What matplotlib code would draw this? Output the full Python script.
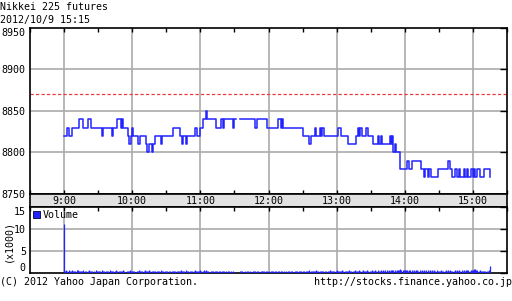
import numpy as np
import matplotlib
matplotlib.use("Agg")
from matplotlib import pyplot as plt
from matplotlib.patches import Patch
from matplotlib.transforms import blended_transform_factory

# price steps: minutes after 9:00 -> price (nan = no trades)
price_min = [0, 3, 4, 7, 13, 17, 21, 24, 33, 34, 42, 43, 47, 50, 51, 52, 56, 57, 59, 60,
             61, 65, 67, 72, 73, 75, 77, 78, 80, 85, 86, 96, 102, 104, 105, 107, 108, 115, 117, 120,
             122, 125, 126, 134, 138, 140, 141, 149, 150, 151, 155, 168, 170, 179, 188, 191, 192, 193, 210, 216,
             217, 221, 222, 225, 226, 227, 229, 241, 244, 250, 257, 259, 260, 261, 262, 266, 268, 272, 276, 277,
             279, 280, 287, 288, 289, 290, 291, 292, 296, 302, 304, 306, 314, 317, 318, 320, 321, 323, 329, 338,
             340, 342, 344, 346, 348, 349, 352, 353, 355, 356, 358, 360, 361, 362, 364, 366, 370, 375]
price_val = [8820, 8830, 8820, 8830, 8840, 8830, 8840, 8830, 8820, 8830, 8820, 8830, 8840, 8830, 8840, 8830, 8820, 8810, 8820, 8830,
             8820, 8810, 8820, 8810, 8800, 8810, 8800, 8810, 8820, 8810, 8820, 8830, 8820, 8810, 8820, 8810, 8820, 8830, 8820, 8830,
             8840, 8850, 8840, 8830, 8840, 8830, 8840, 8830, 8840, np.nan, 8840, 8830, 8840, 8830, 8840, 8830, 8840, 8830, 8820, 8810,
             8820, 8830, 8820, 8830, 8820, 8830, 8820, 8830, 8820, 8810, 8820, 8830, 8820, 8830, 8820, 8830, 8820, 8810, 8820, 8810,
             8820, 8810, 8820, 8810, 8820, 8800, 8810, 8800, 8780, 8790, 8780, 8790, 8780, 8770, 8780, 8770, 8780, 8770, 8780, 8790,
             8780, 8770, 8780, 8770, 8780, 8770, 8780, 8770, 8780, 8770, 8780, 8770, 8780, 8770, 8780, 8770, 8780, 8770]
prev_close = 8870

# volume per minute, in hundreds of contracts
vol_hundreds = [
    112, 5, 6, 4, 7, 5, 4, 6, 5, 5, 4, 6, 7, 4, 5, 4, 5, 6, 4, 5, 3, 5, 6, 4, 5,
    4, 5, 3, 6, 5, 4, 5, 4, 6, 5, 4, 3, 5, 4, 5, 6, 4, 5, 4, 3, 5, 6, 5, 4, 5,
    4, 5, 6, 4, 3, 5, 4, 5, 6, 4, 5, 4, 5, 3, 4, 5, 6, 4, 5, 5, 4, 6, 5, 4, 5,
    6, 5, 4, 5, 5, 4, 3, 4, 5, 4, 6, 5, 4, 3, 4, 5, 4, 5, 4, 3, 5, 4, 5, 4, 4,
    5, 4, 5, 6, 4, 5, 4, 6, 5, 4, 3, 4, 5, 4, 5, 6, 4, 5, 5, 4, 6, 5, 4, 6, 5,
    6, 5, 4, 3, 4, 5, 4, 3, 4, 5, 4, 4, 5, 3, 4, 5, 4, 3, 4, 5, 4, 3, 4, 3, 4,
    3, 0, 0, 0, 0, 4, 5, 4, 3, 4, 3, 4, 5, 3, 4, 3, 4, 5, 4, 3, 4, 4, 3, 5, 4,
    5, 4, 3, 4, 5, 4, 3, 4, 5, 4, 3, 4, 5, 4, 4, 3, 5, 4, 3, 4, 5, 3, 4, 4, 3,
    4, 5, 3, 4, 5, 4, 3, 4, 5, 4, 5, 4, 3, 5, 4, 5, 6, 4, 5, 4, 5, 4, 6, 5, 4,
    5, 4, 5, 4, 3, 4, 5, 4, 5, 6, 4, 5, 4, 5, 4, 6, 5, 4, 5, 4, 6, 5, 4, 5, 4,
    5, 6, 4, 5, 4, 5, 6, 5, 4, 5, 6, 4, 5, 6, 5, 4, 5, 6, 5, 4, 5, 6, 4, 5, 6,
    5, 6, 5, 4, 6, 5, 6, 5, 6, 7, 5, 6, 5, 6, 7, 6, 7, 5, 6, 7, 6, 10, 7, 6, 7,
    6, 7, 6, 5, 6, 7, 6, 5, 6, 5, 6, 7, 5, 6, 5, 6, 5, 6, 5, 6, 7, 5, 6, 5, 6,
    5, 6, 5, 6, 5, 4, 5, 6, 5, 4, 5, 6, 5, 6, 5, 6, 5, 4, 5, 6, 5, 6, 5, 6, 5,
    6, 5, 6, 5, 6, 7, 6, 5, 6, 7, 6, 8, 9, 7, 6, 5, 6, 5, 4, 5, 4, 5, 4, 5, 6,
    15]

hour_labels = ["9:00", "10:00", "11:00", "12:00", "13:00", "14:00", "15:00"]
price_ticks = [8750, 8800, 8850, 8900, 8950]
vol_ticks = [0, 5, 10, 15]

plt.rcParams['font.family'] = ['DejaVu Sans Mono']
plt.rcParams['font.size'] = 7.2

W, H = 512, 301
fig = plt.figure(figsize=(W / 100, H / 100), dpi=100)
L, R = 30, 507
ax = fig.add_axes([L / W, 1 - 194 / H, (R - L) / W, 166 / H])
band = fig.add_axes([L / W, 1 - 207 / H, (R - L) / W, 13 / H])
axv = fig.add_axes([L / W, 1 - 273 / H, (R - L) / W, 66 / H])

hours = np.arange(0, 361, 60)
halves = np.arange(-30, 391, 30)
grid_c = '#aaaaaa'
blue = '#2323ff'

for a in (ax, band, axv):
    a.set_xlim(-30, 390)
    for s in a.spines.values():
        s.set_linewidth(1.2)
        s.set_color('black')

# price panel
for h in hours:
    ax.axvline(h, color=grid_c, lw=1.2, zorder=1)
for p in price_ticks[1:-1]:
    ax.axhline(p, color=grid_c, lw=1.2, zorder=1)
ax.axhline(prev_close, color='#e83a3a', lw=0.9, ls=(0, (2.6, 1.8)), zorder=2)
ax.plot(price_min, price_val, drawstyle='steps-post', color=blue, lw=1.1, zorder=3)
ax.set_ylim(8750, 8950)
ax.set_yticks(price_ticks)
ax.set_xticks(halves)
ax.tick_params(axis='y', left=False, right=True, direction='in', length=5, width=1, pad=3)
ax.tick_params(axis='x', top=True, bottom=True, direction='in', length=3, width=1, labelbottom=False)
ax.get_yticklabels()[-1].set_va('top')

# time band
band.set_facecolor('#e2e2e2')
band.set_xticks([])
band.set_yticks([])
tr = blended_transform_factory(band.transData, band.transAxes)
for h, lab in zip(hours, hour_labels):
    band.text(h, 0.45, lab, transform=tr, ha='center', va='center')

# volume panel
for h in hours:
    axv.axvline(h, color=grid_c, lw=1.2, zorder=1)
for v in vol_ticks[1:-1]:
    axv.axhline(v, color=grid_c, lw=1.2, zorder=1)
vol_k = np.array(vol_hundreds) / 10.0
axv.vlines(np.arange(len(vol_k)), 0, vol_k, color=blue, lw=0.9, zorder=3)
axv.set_ylim(0, 15)
axv.set_yticks(vol_ticks)
axv.set_xticks(halves)
axv.tick_params(axis='y', left=False, right=True, direction='in', length=5, width=1, pad=3)
axv.tick_params(axis='x', top=True, bottom=False, direction='in', length=3, width=1, labelbottom=False)
axv.get_yticklabels()[-1].set_va('top')
axv.get_yticklabels()[0].set_va('bottom')
leg = axv.legend(handles=[Patch(facecolor=blue, edgecolor='#000033', linewidth=0.6, label='Volume')],
                 loc='upper left', frameon=False, handlelength=0.7, handleheight=0.7,
                 handletextpad=0.3, borderaxespad=0.2, borderpad=0.1)

fig.text(8 / W, 1 - 241 / H, '(x1000)', rotation=90, ha='center', va='center')

# header / footer
fig.text(0, 1 - 7 / H, 'Nikkei 225 futures', ha='left', va='center')
fig.text(0, 1 - 20 / H, '2012/10/9 15:15', ha='left', va='center')
fig.text(0, 1 - 282 / H, '(C) 2012 Yahoo Japan Corporation.', ha='left', va='center')
fig.text(1, 1 - 282 / H, 'http://stocks.finance.yahoo.co.jp', ha='right', va='center')

fig.savefig('out.png', dpi=100)
